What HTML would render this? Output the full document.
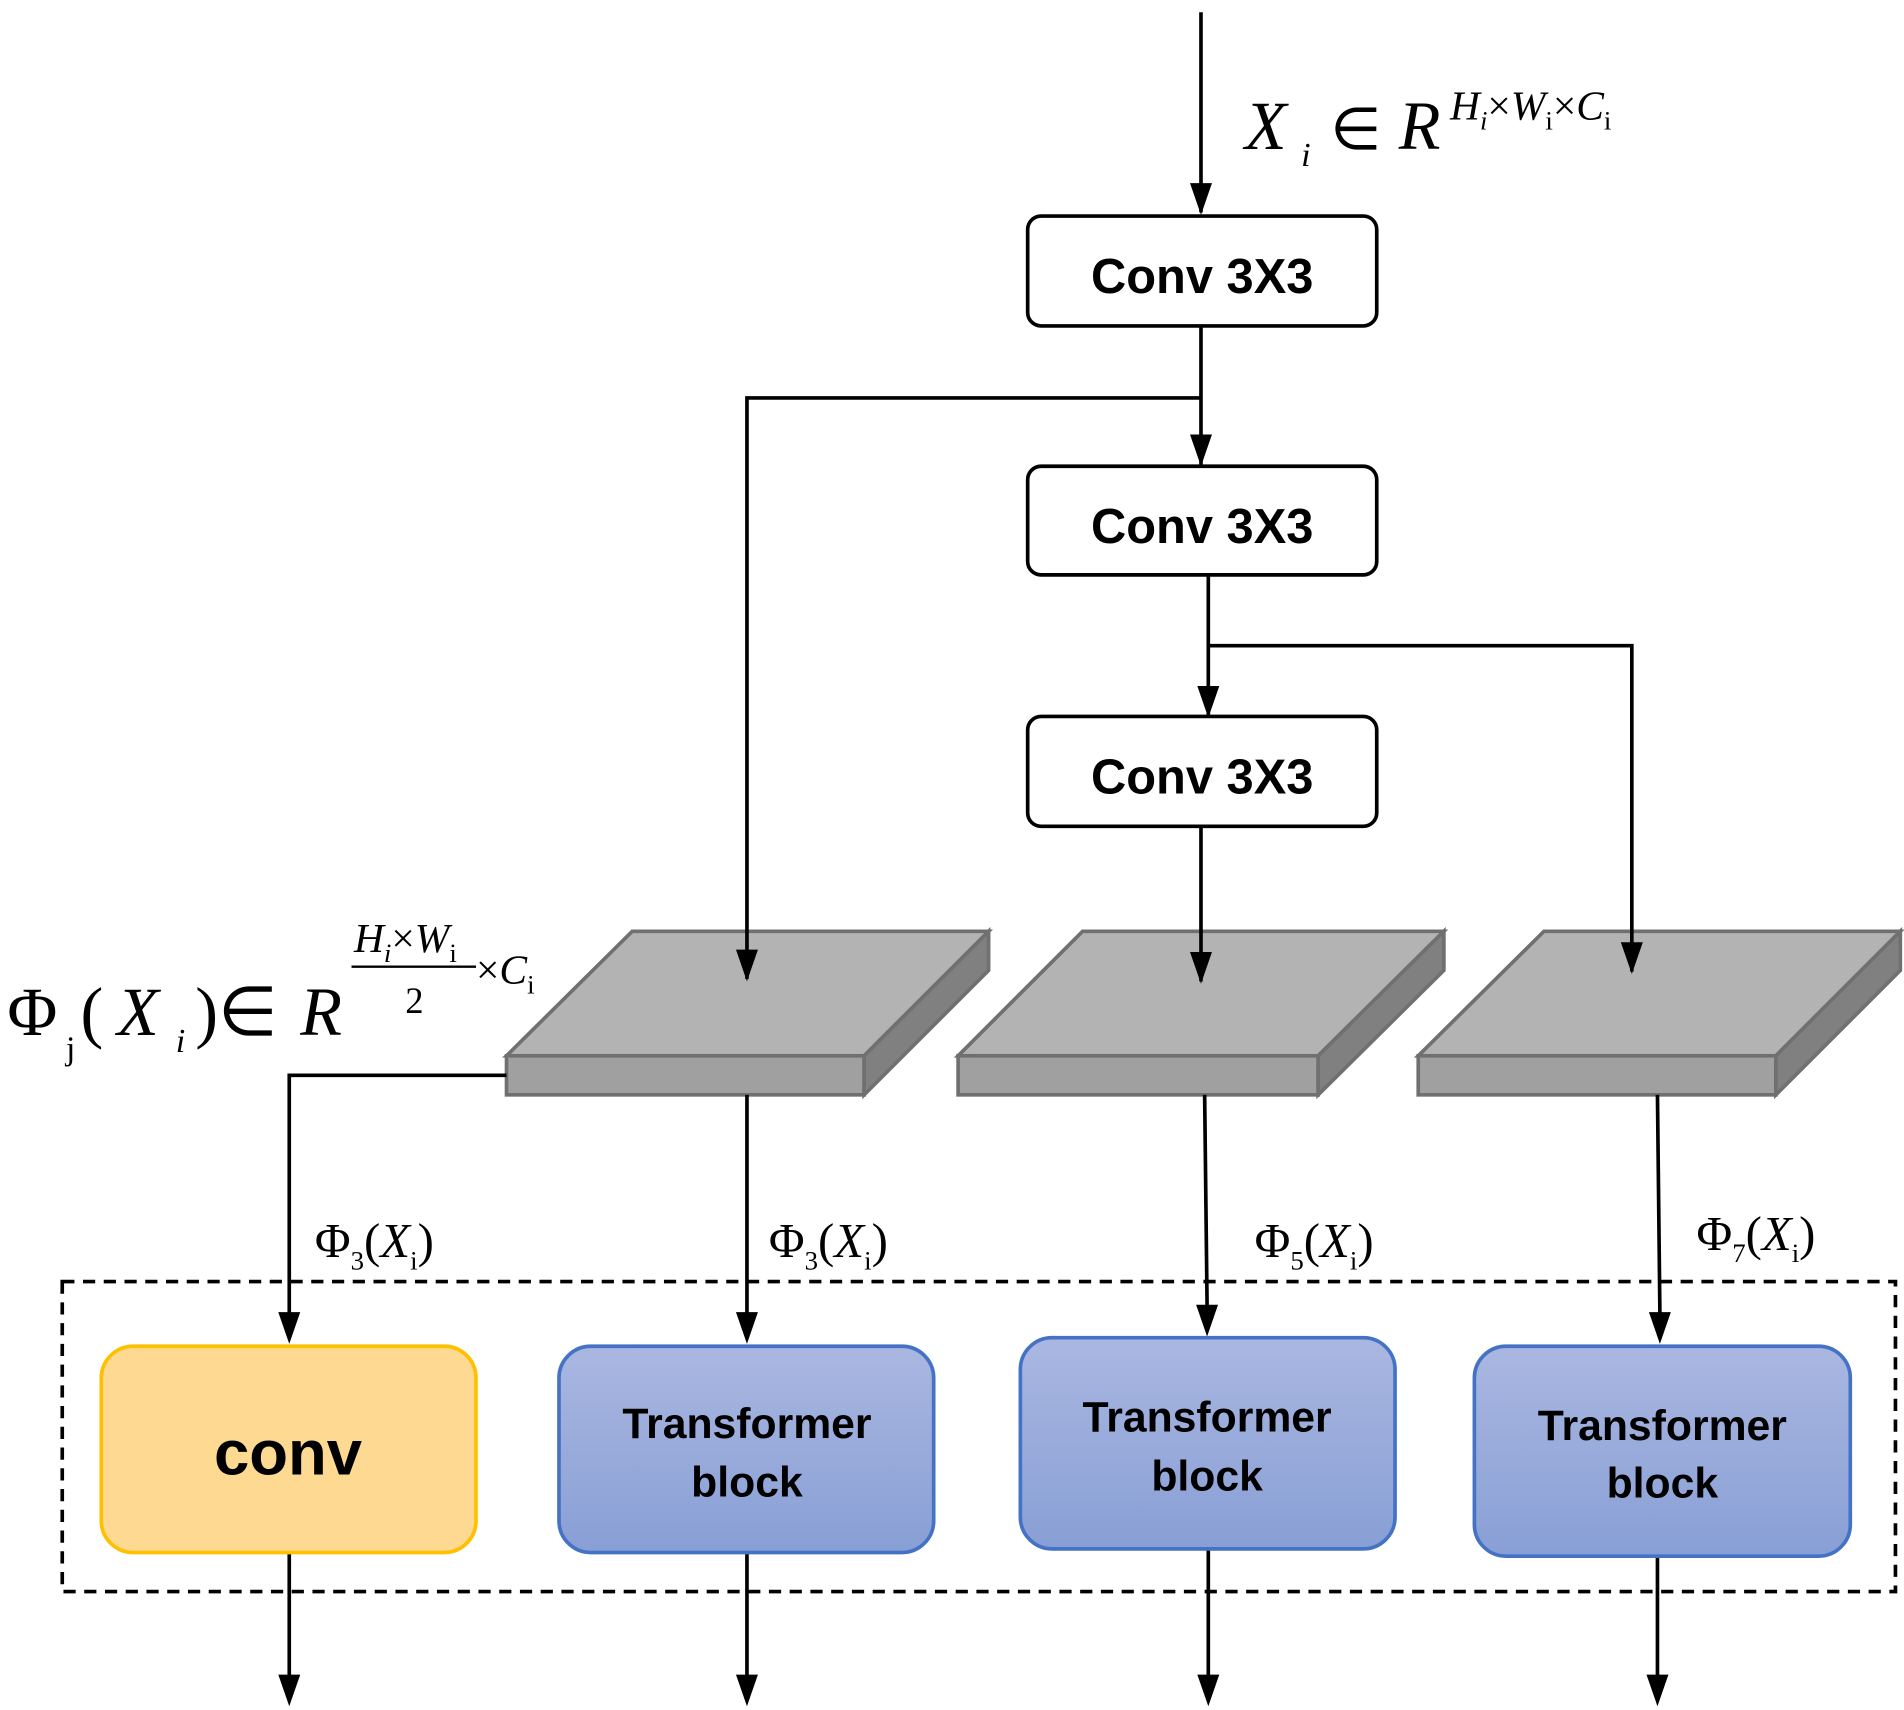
<!DOCTYPE html>
<html><head><meta charset="utf-8"><style>
html,body{margin:0;padding:0;background:#fff;}
svg{display:block;}
.s{font-family:"Liberation Serif",serif;}
.b{font-family:"Liberation Sans",sans-serif;font-weight:bold;}
</style></head><body>
<svg width="1904" height="1710" viewBox="0 0 1560 1401" xmlns="http://www.w3.org/2000/svg">
<defs>
<linearGradient id="g" x1="0" y1="0" x2="0" y2="1"><stop offset="0" stop-color="#aab7e1"/><stop offset="1" stop-color="#889fd5"/></linearGradient>
</defs>
<g stroke="#707070" stroke-width="3">
<path d="M415,865 L518,763 L810,763 L708,865 z" fill="#b3b3b3"/><rect x="415" y="865" width="293" height="32" fill="#a0a0a0"/><path d="M708,865 L810,763 L810,795 L708,897 z" fill="#808080"/>
<path d="M785,865 L887,763 L1183,763 L1080,865 z" fill="#b3b3b3"/><rect x="785" y="865" width="295" height="32" fill="#a0a0a0"/><path d="M1080,865 L1183,763 L1183,795 L1080,897 z" fill="#808080"/>
<path d="M1162,865 L1265,763 L1557,763 L1455,865 z" fill="#b3b3b3"/><rect x="1162" y="865" width="293" height="32" fill="#a0a0a0"/><path d="M1455,865 L1557,763 L1557,795 L1455,897 z" fill="#808080"/>
</g>
<g stroke="#000" stroke-width="3" fill="none">
<path d="M984,10 V174"/><path d="M975,150 L984,176 L993,150 z" fill="#000" stroke="none"/>
<path d="M984,267 V381"/><path d="M975,356 L984,382 L993,356 z" fill="#000" stroke="none"/>
<path d="M984,326 H612 V802"/><path d="M603,778 L612,804 L621,778 z" fill="#000" stroke="none"/>
<path d="M990,471 V586"/><path d="M981,562 L990,588 L999,562 z" fill="#000" stroke="none"/>
<path d="M990,529 H1337 V796"/><path d="M1328,772 L1337,798 L1346,772 z" fill="#000" stroke="none"/>
<path d="M984,677 V804"/><path d="M975,780 L984,806 L993,780 z" fill="#000" stroke="none"/>
<path d="M415,881 H237 V1076"/><path d="M228,1075 L237,1101 L246,1075 z" fill="#000" stroke="none"/>
<path d="M612,897 V1076"/><path d="M603,1075 L612,1101 L621,1075 z" fill="#000" stroke="none"/>
<path d="M987,897 L989,1070"/><path d="M980,1069 L989,1095 L998,1069 z" fill="#000" stroke="none"/>
<path d="M1358,897 L1360,1076"/><path d="M1351,1075 L1360,1101 L1369,1075 z" fill="#000" stroke="none"/>
<path d="M237,1272 V1373"/><path d="M228,1372 L237,1398 L246,1372 z" fill="#000" stroke="none"/>
<path d="M612,1272 V1373"/><path d="M603,1372 L612,1398 L621,1372 z" fill="#000" stroke="none"/>
<path d="M990,1269 V1373"/><path d="M981,1372 L990,1398 L999,1372 z" fill="#000" stroke="none"/>
<path d="M1358,1275 V1373"/><path d="M1349,1372 L1358,1398 L1367,1372 z" fill="#000" stroke="none"/>
<rect x="51" y="1050" width="1502" height="254" stroke-dasharray="10,7"/>
</g>
<g stroke="#000" stroke-width="3" fill="#fff">
<rect x="842" y="177" width="286" height="90" rx="11"/>
<rect x="842" y="382" width="286" height="89" rx="11"/>
<rect x="842" y="587" width="286" height="90" rx="11"/>
</g>
<rect x="83" y="1103" width="307" height="169" rx="26" fill="#fdd992" stroke="#ffc000" stroke-width="3"/>
<g fill="url(#g)" stroke="#4472c4" stroke-width="3">
<rect x="458" y="1103" width="307" height="169" rx="26"/>
<rect x="836" y="1096" width="307" height="173" rx="26"/>
<rect x="1208" y="1103" width="308" height="172" rx="26"/>
</g>
<g class="b" text-anchor="middle" fill="#000">
<text x="985" y="240" font-size="40">Conv 3X3</text>
<text x="985" y="445" font-size="40">Conv 3X3</text>
<text x="985" y="650" font-size="40">Conv 3X3</text>
<text x="236" y="1208" font-size="52">conv</text>
<text x="612" y="1178" font-size="35">Transformer</text>
<text x="612" y="1226" font-size="35">block</text>
<text x="989" y="1173" font-size="35">Transformer</text>
<text x="989" y="1221" font-size="35">block</text>
<text x="1362" y="1180" font-size="35">Transformer</text>
<text x="1362" y="1227" font-size="35">block</text>
</g>
<g class="s" fill="#000">
<text x="1020" y="122" font-size="56" font-style="italic">X</text>
<text x="1066" y="136" font-size="28" font-style="italic">i</text>
<text x="1090" y="122" font-size="48">∈</text>
<text x="1146" y="122" font-size="56" font-style="italic">R</text>
<text x="1188" y="98" font-size="34"><tspan font-style="italic">H</tspan><tspan font-size="22" font-style="italic" dy="8">i</tspan><tspan dy="-8">×</tspan><tspan font-style="italic">W</tspan><tspan font-size="22" dy="8">i</tspan><tspan dy="-8">×</tspan><tspan font-style="italic">C</tspan><tspan font-size="22" dy="8">i</tspan></text>
<text x="6" y="848" font-size="56">Φ</text>
<text x="54" y="868" font-size="28">j</text>
<text x="66" y="848" font-size="56">(</text>
<text x="96" y="848" font-size="56" font-style="italic">X</text>
<text x="144" y="862" font-size="28" font-style="italic">i</text>
<text x="160" y="848" font-size="56">)∈</text>
<text x="246" y="848" font-size="56" font-style="italic">R</text>
<text x="290" y="780" font-size="34"><tspan font-style="italic">H</tspan><tspan font-size="22" font-style="italic" dy="8">i</tspan><tspan dy="-8">×</tspan><tspan font-style="italic">W</tspan><tspan font-size="22" dy="8">i</tspan></text>
<line x1="288" y1="792" x2="390" y2="792" stroke="#000" stroke-width="2"/>
<text x="332" y="830" font-size="30">2</text>
<text x="390" y="806" font-size="34">×<tspan font-style="italic">C</tspan><tspan font-size="22" dy="8">i</tspan></text>
<text x="258" y="1030" font-size="40">Φ<tspan font-size="22" dy="10">3</tspan><tspan dy="-10">(</tspan><tspan font-style="italic">X</tspan><tspan font-size="22" dy="10">i</tspan><tspan dy="-10">)</tspan></text>
<text x="630" y="1030" font-size="40">Φ<tspan font-size="22" dy="10">3</tspan><tspan dy="-10">(</tspan><tspan font-style="italic">X</tspan><tspan font-size="22" dy="10">i</tspan><tspan dy="-10">)</tspan></text>
<text x="1028" y="1030" font-size="40">Φ<tspan font-size="22" dy="10">5</tspan><tspan dy="-10">(</tspan><tspan font-style="italic">X</tspan><tspan font-size="22" dy="10">i</tspan><tspan dy="-10">)</tspan></text>
<text x="1390" y="1024" font-size="40">Φ<tspan font-size="22" dy="10">7</tspan><tspan dy="-10">(</tspan><tspan font-style="italic">X</tspan><tspan font-size="22" dy="10">i</tspan><tspan dy="-10">)</tspan></text>
</g>
</svg>
</body></html>
